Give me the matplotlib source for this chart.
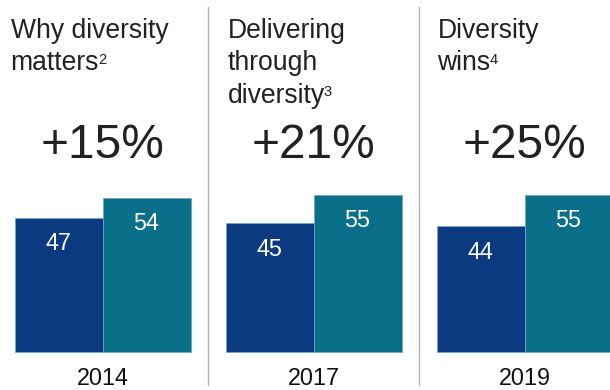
import matplotlib
matplotlib.use("Agg")
import matplotlib.pyplot as plt
import matplotlib.transforms as mtransforms

# ---- data ----
years = ["2014", "2017", "2019"]
title_lines = [["Why diversity", "matters"],
               ["Delivering", "through", "diversity"],
               ["Diversity", "wins"]]
footnotes = ["2", "3", "4"]
uplift = ["+15%", "+21%", "+25%"]
bottom_quartile = [47, 45, 44]
top_quartile = [54, 55, 55]

# ---- style ----
FONT = ["Liberation Sans", "DejaVu Sans"]
plt.rcParams["font.family"] = FONT
DARK = "#0c3a80"
TEAL = "#0a7089"
EDGE = "#6fa6c4"
TXT = "#222222"

W, H, DPI = 610, 390, 100
fig = plt.figure(figsize=(W / DPI, H / DPI), dpi=DPI)
ax = fig.add_axes([0, 0, 1, 1])
ax.set_axis_off()

px_per_unit_x = 211.0
x0 = -102.5 / px_per_unit_x
ax.set_xlim(x0, x0 + W / px_per_unit_x)
px_per_unit_y = 2.85
base_px = 390 - 351.5
y0 = -base_px / px_per_unit_y
ax.set_ylim(y0, y0 + H / px_per_unit_y)

bw = 88 / px_per_unit_x
xs = list(range(len(years)))
b1 = ax.bar([x - bw / 2 for x in xs], bottom_quartile, width=bw,
            color=DARK, edgecolor=EDGE, linewidth=0.6)
b2 = ax.bar([x + bw / 2 for x in xs], top_quartile, width=bw,
            color=TEAL, edgecolor=EDGE, linewidth=0.6)

for bars, vals in ((b1, bottom_quartile), (b2, top_quartile)):
    for r, v in zip(bars, vals):
        ax.annotate(str(v), (r.get_x() + r.get_width() / 2, r.get_height()),
                    xytext=(0, -26), textcoords="offset pixels",
                    ha="center", va="center", color="white", fontsize=16.8)

blend = mtransforms.blended_transform_factory(ax.transData, fig.transFigure)
title_dx = [-4, 2, 1]
first_baseline = 38.0
line_step = 32.5
for i, x in enumerate(xs):
    # title, line by line
    last = None
    for k, line in enumerate(title_lines[i]):
        last = ax.annotate(line, (x - bw, 1 - (first_baseline + k * line_step) / H),
                           xycoords=blend, xytext=(title_dx[i], 0),
                           textcoords="offset pixels", ha="left", va="baseline",
                           fontsize=19.1, color=TXT)
    # footnote superscript after last line
    ax.annotate(footnotes[i], (1, 1), xycoords=last, xytext=(-1, -2),
                textcoords="offset pixels", ha="left", va="top",
                fontsize=10.5, color=TXT)
    # big number
    ax.text(x, 1 - 145.5 / H, uplift[i], transform=blend,
            ha="center", va="center", fontsize=34.5, color=TXT)
    # year
    ax.text(x, 1 - 385 / H, years[i], transform=blend,
            ha="center", va="baseline", fontsize=16.8, color="#111111")

# separators
for s in [0.5, 1.5]:
    ax.plot([s, s], [1 - 7 / H, 1 - 385 / H], transform=blend,
            color="#b4b4b4", linewidth=1.0, clip_on=False)

fig.savefig("out.png", dpi=DPI)
